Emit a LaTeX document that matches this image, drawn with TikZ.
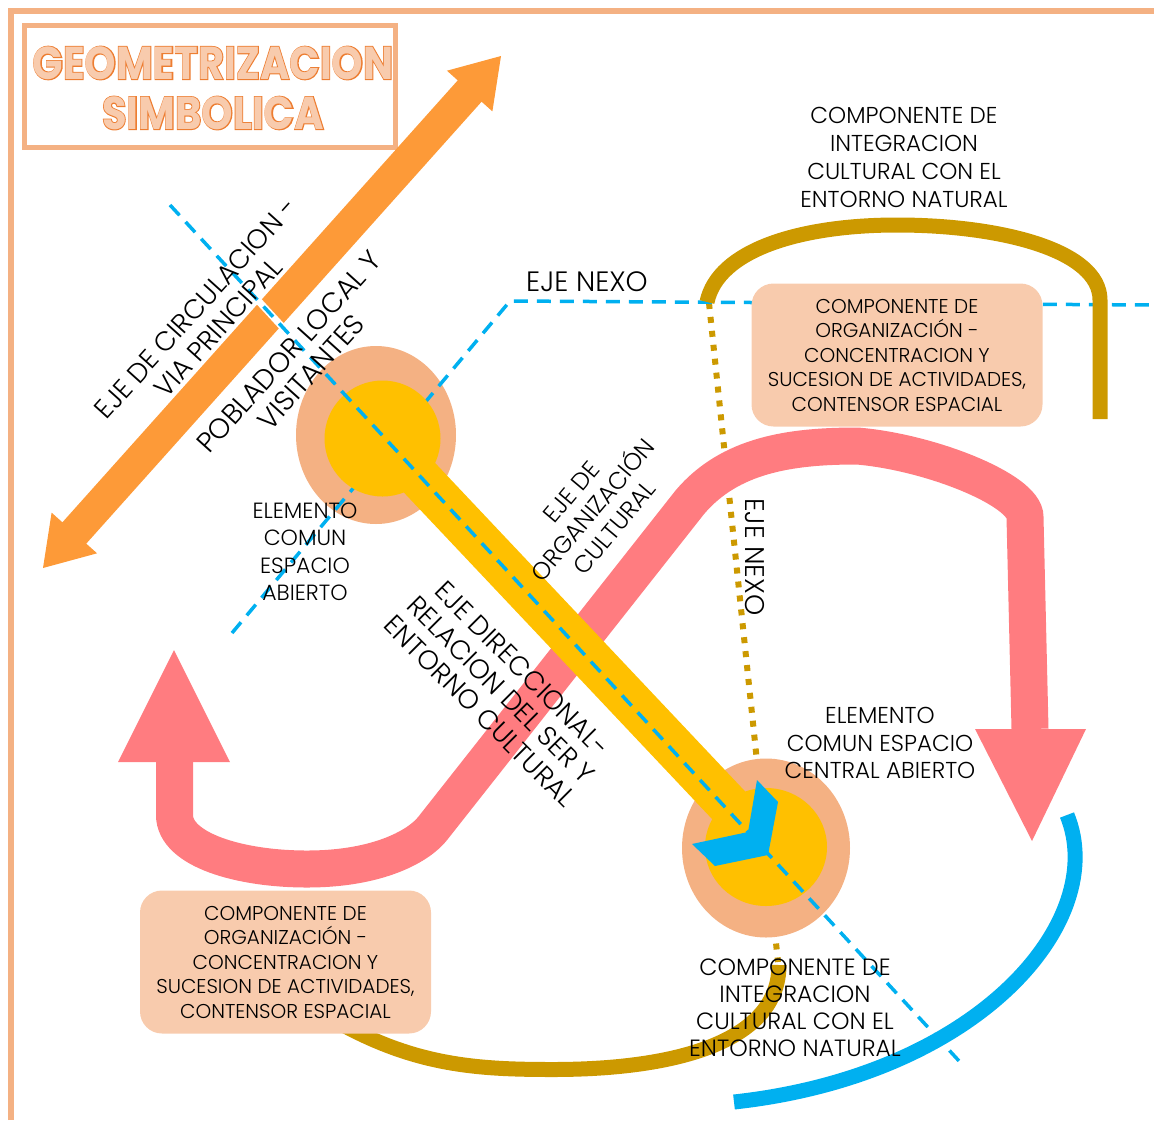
\documentclass[tikz,border=0pt]{standalone}
\usepackage{fontspec}
\setmainfont{Poppins Light}
\newfontfamily\titlefont{Poppins}
\newfontfamily\titlefat{Poppins}[BoldFeatures={FakeBold=4}]
\usepackage{graphicx}
\usepackage{tikz}
\usetikzlibrary{positioning,calc}
\definecolor{marco}{RGB}{244,177,131}
\definecolor{cajapeach}{RGB}{248,203,173}
\definecolor{titulonar}{RGB}{237,125,49}
\definecolor{naranja}{RGB}{253,154,56}
\definecolor{rosa}{RGB}{255,124,128}
\definecolor{amarillo}{RGB}{255,192,0}
\definecolor{celeste}{RGB}{0,176,240}
\definecolor{dorado}{RGB}{204,153,0}
\tikzset{
  frame/.style={draw=marco, line width=5.5pt},
  titlebox/.style={draw=marco, line width=5.5pt},
  titleback/.style={inner sep=0pt, text=titulonar,
                    font=\titlefat\bfseries\fontsize{46}{50}\selectfont},
  titlefront/.style={inner sep=0pt, text=cajapeach,
                     font=\titlefont\bfseries\fontsize{46}{50}\selectfont},
  orangeband/.style={draw=naranja, line width=32pt},
  rosaband/.style={draw=rosa, line width=37pt},
  amarilloband/.style={draw=amarillo, line width=43pt},
  goldband/.style={draw=dorado, line width=15pt},
  blueband/.style={draw=celeste, line width=15pt},
  nexodash/.style={draw=celeste, line width=3.5pt, dash pattern=on 14pt off 9pt},
  nexodot/.style={draw=dorado, line width=6pt, dash pattern=on 6pt off 8pt},
  anillo/.style={fill=marco},
  nucleo/.style={fill=amarillo},
  lbl/.style={inner sep=0pt, align=center, font=\fontsize{23}{28}\selectfont},
  rlbl/.style={inner sep=0pt, align=center, font=\fontsize{27}{30}\selectfont},
  cajatxt/.style={fill=cajapeach, rounded corners=22pt, inner sep=0pt, align=center,
                  minimum width=291pt, minimum height=143pt,
                  font=\fontsize{20}{24.5}\selectfont}
}
\begin{document}
\begin{tikzpicture}[x=1pt,y=-1pt]
\useasboundingbox (0,0) rectangle (1154,1120);
% marco y titulo
\draw[frame] (11,1120) -- (11,11) -- (1154,11);
\draw[titlebox] (24.5,25.5) rectangle (395.5,147.5);
\node[titleback] (tit1b) at (213,63) {\scalebox{0.87}[1]{GEOMETRIZACION}};
\node[titlefront] (tit1) at (213,63) {\scalebox{0.87}[1]{GEOMETRIZACION}};
\node[titleback] (tit2b) at (213,113) {\scalebox{0.87}[1]{SIMBOLICA}};
\node[titlefront] (tit2) at (213,113) {\scalebox{0.87}[1]{SIMBOLICA}};
% eje de circulacion
\coordinate (oA) at (43,568);
\coordinate (oB) at (501,56);
\coordinate (oAh) at ($(oA)!47pt!(oB)$);
\coordinate (oBh) at ($(oB)!47pt!(oA)$);
\draw[orangeband] ($(oA)!44pt!(oB)$) -- ($(oB)!44pt!(oA)$);
\fill[naranja] (oA) -- ($(oAh)!30.5pt!90:(oB)$) -- ($(oAh)!30.5pt!-90:(oB)$) -- cycle;
\fill[naranja] (oB) -- ($(oBh)!30.5pt!90:(oA)$) -- ($(oBh)!30.5pt!-90:(oA)$) -- cycle;
% eje nexo punteado
\coordinate (dA) at (709,303);
\coordinate (dB) at (778,962);
\draw[nexodot] (dA) -- (dB);
% eje de organizacion cultural
\fill[rosa] (174,650) -- (230,762) -- (118,762) -- cycle;
\draw[rosaband] (174.5,762) -- (174.5,815) .. controls (174.5,850) and (240,869) .. (307,869)
  .. controls (380,869) and (420,845) .. (433,828) -- (690,502)
  .. controls (730,455) and (790,446) .. (857,446)
  .. controls (930,452) and (1025,490) .. (1025,517) -- (1030,729);
\fill[rosa] (975,729) -- (1086,729) -- (1032,841) -- cycle;
% elementos comunes
\fill[anillo] (376,435) ellipse [x radius=80pt, y radius=89pt];
\fill[anillo] (766,848) ellipse [x radius=84pt, y radius=89.5pt];
\draw[nexodash] (232,633) -- (510,301) -- (1154,305);
% componentes de integracion
\draw[goldband] (707,302) .. controls (718,250) and (800,225) .. (897,225)
  .. controls (1000,225) and (1100,250) .. (1100,300) -- (1100,419);
\draw[goldband] (345,1026) .. controls (420,1066) and (480,1069.5) .. (553,1069.5)
  .. controls (680,1069.5) and (779,1040) .. (779,965);
\draw[blueband] (1067,815) .. controls (1110,920) and (980,1075) .. (734,1102);
% componentes de organizacion
\node[cajatxt] (org1) at (897,355) {COMPONENTE DE\\ORGANIZACIÓN -\\CONCENTRACION Y\\SUCESION DE ACTIVIDADES,\\CONTENSOR ESPACIAL};
\node[cajatxt] (org2) at (285.5,962) {COMPONENTE DE\\ORGANIZACIÓN -\\CONCENTRACION Y\\SUCESION DE ACTIVIDADES,\\CONTENSOR ESPACIAL};
% eje direccional
\fill[nucleo] (382.5,438.5) circle (58pt);
\fill[nucleo] (766,847) ellipse [x radius=61pt, y radius=59pt];
\draw[amarilloband] (382,438) -- (752,830);
\coordinate (ejeA) at (170,205);
\coordinate (ejeB) at (960,1062);
\draw[white, line width=7pt] ($(ejeA)!0.105!(ejeB)$) -- ($(ejeA)!0.15!(ejeB)$);
\draw[nexodash] (ejeA) -- (ejeB);
\fill[celeste] (757,780) -- (778,802) -- (768,855) -- (715,866) -- (692,844) -- (748,832) -- cycle;
% textos
\node[rlbl, rotate=48] (circ) at (207,318) {EJE DE CIRCULACION -\\VIA PRINCIPAL};
\node[rlbl, font=\fontsize{28}{30}\selectfont, rotate=48] (pobl) at (300,362) {POBLADOR LOCAL Y\\VISITANTES};
\node[rlbl, font=\fontsize{28}{30}\selectfont] (nexo1) at (587,282) {EJE NEXO};
\node[lbl, font=\fontsize{22}{27.5}\selectfont] (elem1) at (305,552) {ELEMENTO\\COMUN\\ESPACIO\\ABIERTO};
\node[lbl, font=\fontsize{24}{28}\selectfont, rotate=50] (orgcul) at (593,510) {EJE DE\\ORGANIZACIÓN\\CULTURAL};
\node[rlbl, rotate=-90] (nexo2) at (755,557) {EJE NEXO};
\node[rlbl, rotate=-45] (direc) at (501,690) {EJE DIRECCIONAL-\\RELACION DEL SER Y\\ENTORNO CULTURAL};
\node[lbl, font=\fontsize{23}{27.5}\selectfont] (elem2) at (880,743) {ELEMENTO\\COMUN ESPACIO\\CENTRAL ABIERTO};
\node[lbl] (integ1) at (904,157) {COMPONENTE DE\\INTEGRACION\\CULTURAL CON EL\\ENTORNO NATURAL};
\node[lbl, font=\fontsize{23.5}{27}\selectfont] (integ2) at (795,1008) {COMPONENTE DE\\INTEGRACION\\CULTURAL CON EL\\ENTORNO NATURAL};
\end{tikzpicture}
\end{document}
